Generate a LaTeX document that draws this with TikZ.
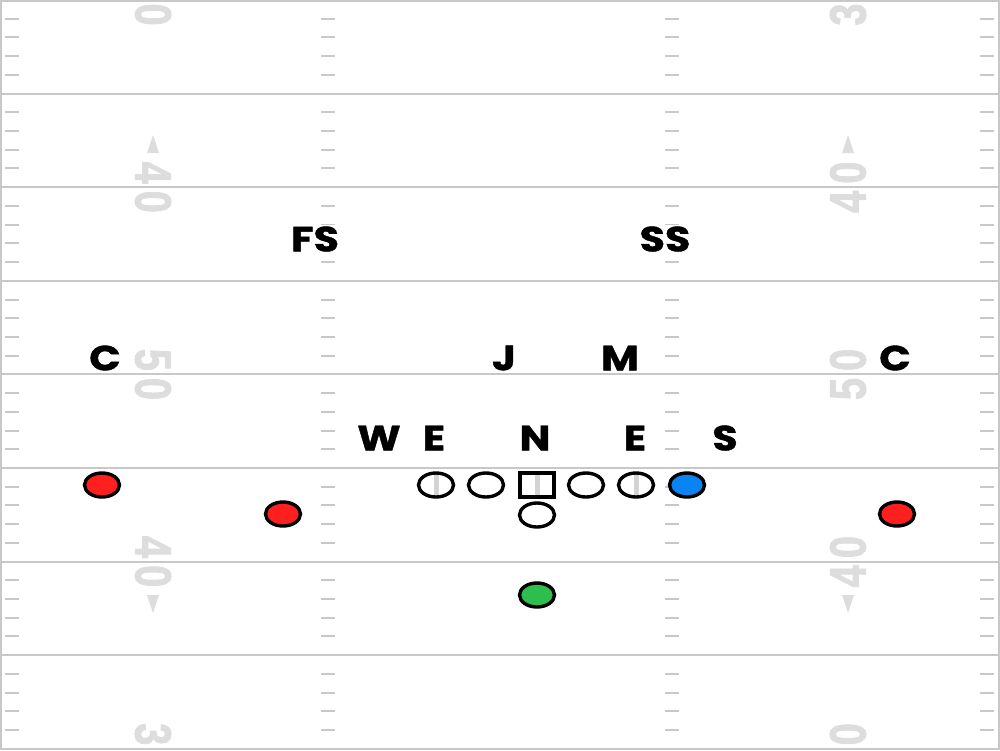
\documentclass[tikz,border=0pt]{standalone}
\usepackage{fontspec}
\usetikzlibrary{shapes.geometric}
\newfontfamily\labelfont{Poppins}[FakeStretch=1.18,FakeBold=1.2]
\newfontfamily\numfont{Liberation Sans}[FakeBold=2]
\definecolor{fieldgray}{HTML}{C8C8C8}
\definecolor{numgray}{HTML}{DDDDDD}
\definecolor{dred}{HTML}{FF1F1F}
\definecolor{dblue}{HTML}{0B84F3}
\definecolor{dgreen}{HTML}{2DBE4E}
\newcommand{\digit}[1]{\scalebox{0.78}[1]{#1}}
\tikzset{
    yardline/.style={fieldgray,line width=2pt},
    hashmark/.style={fieldgray,line width=2pt},
    yardnum/.style={numgray,font=\numfont\bfseries\fontsize{51}{51}\selectfont,inner sep=0pt},
    player/.style={ellipse,draw,fill=white,line width=3.4pt,minimum width=35pt,minimum height=24pt,inner sep=0pt},
    snapper/.style={rectangle,draw,fill=white,line width=3.4pt,minimum width=34pt,minimum height=24pt,inner sep=0pt},
    tech/.style={path picture={\fill[fieldgray!80] ([xshift=-2.5pt]path picture bounding box.north) rectangle ([xshift=2.5pt]path picture bounding box.south);}},
    deflabel/.style={font=\labelfont\bfseries\fontsize{35}{35}\selectfont,fill=white,inner sep=1pt}
}
\begin{document}
\begin{tikzpicture}[x=1pt,y=-1pt]
    \useasboundingbox (0,0) rectangle (1000,750);
    \begin{scope}
    \clip (0,0) rectangle (1000,750);
    \foreach \j in {1,...,7}
        {\draw[yardline] (0,93.6*\j) -- (1000,93.6*\j);
        }
    \foreach \j in {0,...,7}
        \foreach \i in {1,2,3,4}
            {\foreach \x in {5,321,665,980}
                {\draw[hashmark] (\x,{93.6*\j+18.72*\i}) -- +(14,0);
                }
            }
    \foreach \y/\a/\b in {0/3/0,187.2/4/0,374.4/5/0,561.6/4/0,748.8/3/0}
        {\node[yardnum,rotate=-90] at (153,\y) {\digit{\a}\kern7pt\digit{\b}};
         \node[yardnum,rotate=90] at (848,\y) {\digit{\a}\kern7pt\digit{\b}};
        }
    \foreach \x in {153,848}
        {\fill[numgray] (\x-6,153) -- (\x+6,153) -- (\x,135) -- cycle;
         \fill[numgray] (\x-6,595) -- (\x+6,595) -- (\x,613) -- cycle;
        }
    \end{scope}
    \draw[fieldgray,line width=2pt] (1,1) rectangle (999,749);
    \node[deflabel] (fs) at (315,239) {FS};
    \node[deflabel] (ss) at (665,239) {SS};
    \node[deflabel] (cl) at (105,358) {C};
    \node[deflabel] (j) at (504,358) {J};
    \node[deflabel] (m) at (620,358) {M};
    \node[deflabel] (cr) at (895,358) {C};
    \node[deflabel] (w) at (379,438) {W};
    \node[deflabel] (el) at (434,438) {E};
    \node[deflabel] (n) at (535,438) {N};
    \node[deflabel] (er) at (635,438) {E};
    \node[deflabel] (s) at (725,438) {S};
    \node[player,tech] (lt) at (436,485) {};
    \node[player] (lg) at (486,485) {};
    \node[snapper,tech] (ctr) at (537,485) {};
    \node[player] (rg) at (586,485) {};
    \node[player,tech] (rt) at (636,485) {};
    \node[player,fill=dblue] (te) at (687,485) {};
    \node[player] (qb) at (537,515) {};
    \node[player,fill=dgreen] (rb) at (537,595) {};
    \node[player,fill=dred] (xr) at (102,485) {};
    \node[player,fill=dred] (zr) at (283,514) {};
    \node[player,fill=dred] (yr) at (897,514) {};
\end{tikzpicture}
\end{document}
